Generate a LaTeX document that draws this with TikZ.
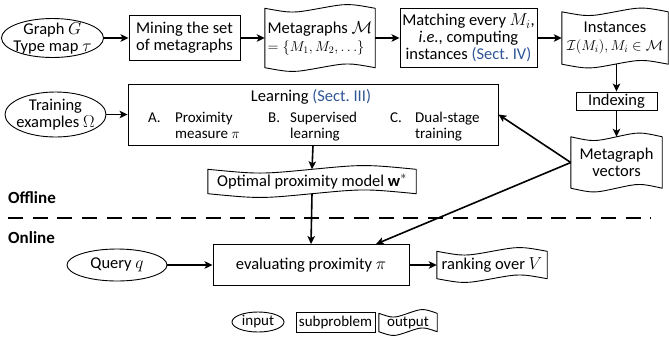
\documentclass[tikz,border=0pt]{standalone}
\usepackage{fontspec}
\setmainfont{Carlito}
\usetikzlibrary{arrows.meta,calc}
\definecolor{sect}{RGB}{47,85,151}
\newcommand\mydocoutline[1]{%
  \draw[outl] let \p1=(#1.north west), \p2=(#1.south east), \n1={\x2-\x1} in
    (\x1,\y1) .. controls ({\x1+0.25*\n1},{\y1-5pt}) .. ({\x1+0.5*\n1},\y1)
    .. controls ({\x1+0.75*\n1},{\y1+5pt}) .. (\x2,\y1)
    -- (\x2,\y2) .. controls ({\x1+0.75*\n1},{\y2+5pt}) .. ({\x1+0.5*\n1},\y2)
    .. controls ({\x1+0.25*\n1},{\y2-5pt}) .. (\x1,\y2) -- cycle;}
\newcommand\myellipse[3]{\draw[outl] (#1.center) ellipse [x radius=#2, y radius=#3];}
\newcommand\mysmallmath[1]{{\fontsize{14.5}{17}\selectfont #1}}
\begin{document}
\begin{tikzpicture}[x=1pt,y=-1pt,
  every node/.style={font=\fontsize{16.5}{17}\selectfont, inner sep=0pt},
  outl/.style={line width=0.9pt, line join=round},
  box/.style={draw, line width=0.9pt, align=center},
  doc/.style={align=center},
  ell/.style={align=center},
  small/.style={font=\fontsize{15}{16}\selectfont},
  txt/.style={anchor=base west, font=\fontsize{15}{16}\selectfont},
  arr/.style={line width=1.6pt, -{Stealth[length=8pt,width=7.5pt,inset=2pt]}},
]
\useasboundingbox (0,0) rectangle (669,341);

% row 1
\node[ell, minimum width=101pt, minimum height=38pt] (graph) at (52.5,38) {Graph $G$\\Type map $\tau$};
\myellipse{graph}{51pt}{19.5pt}
\node[box, minimum width=111pt, minimum height=45pt] (mining) at (184.5,38) {Mining the set\\of metagraphs};
\node[doc, align=left, minimum width=110pt, minimum height=59pt] (mgs) at (320,38) {Metagraphs $\mathcal{M}$\\[1pt]\mysmallmath{$=\{M_1,M_2,\ldots\}$}};
\mydocoutline{mgs}
\node[box, minimum width=137pt, minimum height=59pt] (match) at (468.5,38) {Matching every $M_i$,\\\textit{i.e.}, computing\\instances \textcolor{sect}{(Sect.~IV)}};
\node[doc, minimum width=106pt, minimum height=52pt] (inst) at (615,38) {Instances\\[1pt]\mysmallmath{$\mathcal{I}(M_i),M_i\in\mathcal{M}$}};
\mydocoutline{inst}

% right column
\node[box, minimum width=81pt, minimum height=18pt] (index) at (616.5,101) {Indexing};
\node[doc, minimum width=91pt, minimum height=51pt] (vec) at (616.5,162.5) {Metagraph\\vectors};
\mydocoutline{vec}

% row 2
\node[ell, minimum width=101pt, minimum height=45pt] (train) at (55.5,114.5) {Training\\examples $\Omega$};
\myellipse{train}{50.5pt}{22.5pt}
\node[box, minimum width=370pt, minimum height=61pt] (learn) at (313,114.5) {};
\node[anchor=base] (ltitle) at (311,101.5) {Learning \textcolor{sect}{(Sect.~III)}};
\node[txt] (ia) at (148,122) {A.};
\node[txt] (ia1) at (175,122) {Proximity};
\node[txt] (ia2) at (175,138) {measure $\pi$};
\node[txt] (ib) at (268,122) {B.};
\node[txt] (ib1) at (290,122) {Supervised};
\node[txt] (ib2) at (290,138) {learning};
\node[txt] (ic) at (390,122) {C.};
\node[txt] (ic1) at (415,122) {Dual-stage};
\node[txt] (ic2) at (415,138) {training};

\node[doc, minimum width=208pt, minimum height=24pt] (opt) at (312,181.5) {Optimal proximity model $\mathbf{w}^*$};
\mydocoutline{opt}

% offline / online
\node[anchor=base west, font=\fontsize{17}{18}\selectfont\bfseries] (off) at (8,203) {Offline};
\node[anchor=base west, font=\fontsize{17}{18}\selectfont\bfseries] (on) at (8,243) {Online};
\coordinate (dl) at (8,218);
\coordinate (dr) at (651,218);
\draw[line width=2.6pt, dash pattern=on 15pt off 9.7pt] (dl) -- (dr);

% row 3
\node[ell, minimum width=100pt, minimum height=32pt] (query) at (117,265) {Query $q$};
\myellipse{query}{50pt}{16pt}
\node[box, minimum width=196pt, minimum height=41pt] (eval) at (311,265) {evaluating proximity $\pi$};
\node[doc, minimum width=110pt, minimum height=27pt] (rank) at (492,265) {ranking over $V$};
\mydocoutline{rank}
\coordinate (evtop) at ($(eval.north west)!0.83!(eval.north east)$);

% legend
\node[ell, small, minimum width=52pt, minimum height=20pt] (lin) at (258,322) {input};
\myellipse{lin}{26pt}{10pt}
\node[box, small, minimum width=79pt, minimum height=20pt] (lsub) at (335.5,322) {subproblem};
\node[doc, small, minimum width=58pt, minimum height=18pt] (lout) at (408,322.5) {output};
\mydocoutline{lout}

% arrows
\draw[arr] (graph.east) -- (mining.west);
\draw[arr] (mining.east) -- (mgs.west);
\draw[arr] (mgs.east) -- (match.west);
\draw[arr] (match.east) -- (inst.west);
\draw[arr] (inst.south -| index.north) -- (index.north);
\draw[arr] (index.south) -- (vec.north);
\draw[arr] (vec.west) -- (learn.east);
\draw[arr] (vec.west) -- (evtop);
\draw[arr] (train.east) -- (learn.west);
\draw[arr] (learn.south) -- (opt.north);
\draw[arr] (opt.south) -- (eval.north);
\draw[arr] (query.east) -- (eval.west);
\draw[arr] (eval.east) -- (rank.west);
\end{tikzpicture}
\end{document}
